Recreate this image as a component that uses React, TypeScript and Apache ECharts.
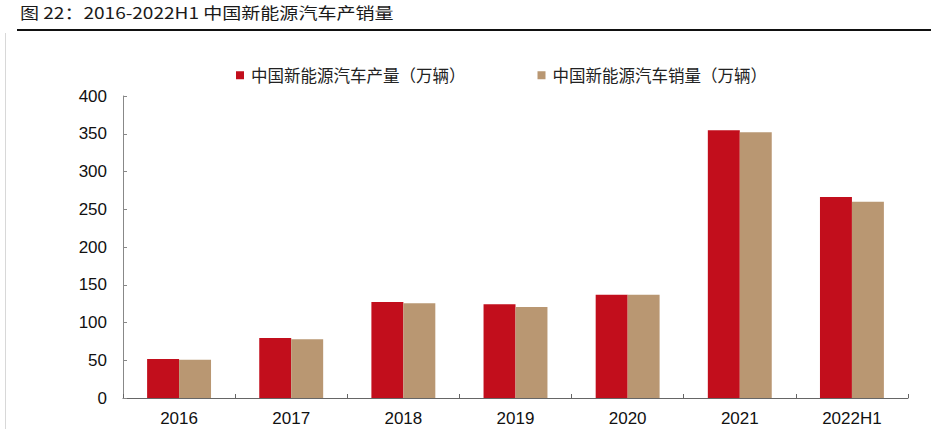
import React, { useEffect, useRef } from "react";
import * as echarts from "echarts";

const categories = ["2016", "2017", "2018", "2019", "2020", "2021", "2022H1"];
const production = [51.7, 79.4, 127.0, 124.2, 136.6, 354.5, 266.1];
const sales = [50.7, 77.7, 125.6, 120.6, 136.7, 352.1, 260.0];
const seriesNames = ["中国新能源汽车产量（万辆）", "中国新能源汽车销量（万辆）"];
const yTicks = { min: 0, max: 400, interval: 50 };
const titleText = "图 22：2016-2022H1 中国新能源汽车产销量";

export default function App() {
  const ref = useRef<HTMLDivElement>(null);
  useEffect(() => {
    if (!ref.current) return;
    const chart = echarts.init(ref.current, null, { renderer: "svg" });
    chart.setOption({
      animation: false,
      backgroundColor: "#ffffff",
      graphic: [
        {
          type: "text",
          x: 20,
          y: 4,
          scaleX: 1.19,
          style: {
            text: titleText,
            fontSize: 16,
            fontFamily: "Noto Sans CJK SC",
            fill: "#1a1a1a",
          },
        },
        {
          type: "rect",
          shape: { x: 17, y: 29, width: 914, height: 2 },
          style: { fill: "#111" },
        },
        {
          type: "rect",
          shape: { x: 5, y: 33, width: 1, height: 396 },
          style: { fill: "#d8d8d8" },
        },
      ],
      legend: {
        top: 67,
        left: 236,
        padding: 0,
        itemWidth: 8,
        itemHeight: 8,
        itemGap: 72,
        icon: "rect",
        textStyle: {
          fontSize: 16.5,
          fontFamily: "Noto Sans CJK SC",
          color: "#222",
          padding: [0, 0, 0, 2],
        },
        data: seriesNames,
      },
      grid: { left: 123, right: 23, top: 96, bottom: 31, containLabel: false },
      xAxis: {
        type: "category",
        data: categories,
        axisLine: { lineStyle: { color: "#666", width: 1 } },
        axisTick: { show: true, inside: true, length: 4, lineStyle: { color: "#666" } },
        axisLabel: {
          fontSize: 17,
          fontFamily: "Liberation Sans",
          color: "#111",
          margin: 12,
        },
      },
      yAxis: {
        type: "value",
        min: yTicks.min,
        max: yTicks.max,
        interval: yTicks.interval,
        splitLine: { show: false },
        axisLine: { show: true, lineStyle: { color: "#888", width: 1 } },
        axisTick: { show: true, inside: true, length: 4, lineStyle: { color: "#888" } },
        axisLabel: {
          fontSize: 17,
          fontFamily: "Liberation Sans",
          color: "#111",
          margin: 16,
        },
      },
      series: [
        {
          name: seriesNames[0],
          type: "bar",
          data: production,
          barGap: "0%",
          barCategoryGap: "43%",
          itemStyle: { color: "#C20E1C" },
        },
        {
          name: seriesNames[1],
          type: "bar",
          data: sales,
          itemStyle: { color: "#B99772" },
        },
      ],
    });
    return () => chart.dispose();
  }, []);
  return (
    <div
      ref={ref}
      style={{ position: "absolute", left: 0, top: 0, width: 931, height: 429 }}
    />
  );
}
